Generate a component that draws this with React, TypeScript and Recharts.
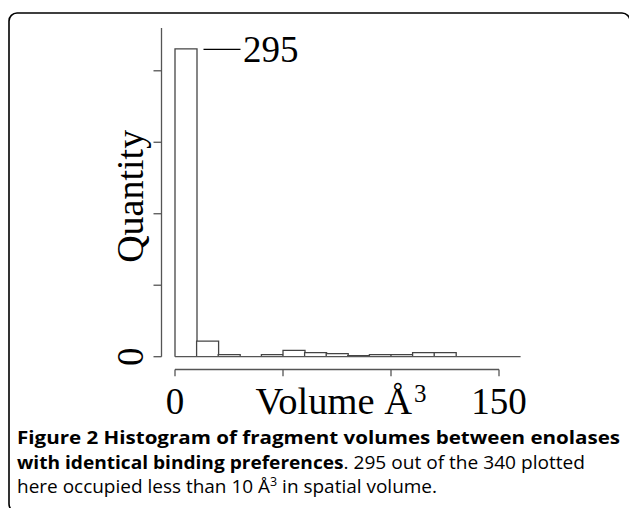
import React from 'react';
import { BarChart, Bar, XAxis, YAxis, ReferenceLine, LabelList } from 'recharts';

// Histogram bins (Å^3): bin centres, 10 Å^3 wide
const binMids = [5, 15, 25, 35, 45, 55, 65, 75, 85, 95, 105, 115, 125, 135, 145, 155];
const counts = [295, 15, 2, 0, 2, 6, 4, 3, 1, 2, 2, 4, 4, 0, 0, 0];

const xTicks = [0, 50, 100, 150];
const xTickLabels = ['0', '', '', '150'];
const yTicks = [0, 68.5, 137, 205.5, 274];
const yTickLabels = ['0', '', '', '', ''];

const data = binMids.map((mid, i) => ({ mid, count: counts[i] }));

const SERIF = '"Liberation Serif", "Times New Roman", serif';
const SANS = '"Open Sans", "Noto Sans", sans-serif';
const AXIS = '#555';

const XTick = (props: any) => {
  const { x, y, payload } = props;
  const i = xTicks.indexOf(payload.value);
  const label = i >= 0 ? xTickLabels[i] : '';
  return (
    <g>
      <line x1={x} x2={x} y1={y + 12.8} y2={y + 19.5} stroke={AXIS} strokeWidth={1.3} />
      {label ? (
        <text x={x} y={y + 57} textAnchor="middle" fontFamily={SERIF} fontSize={37} fill="#000">
          {label}
        </text>
      ) : null}
    </g>
  );
};

const YTick = (props: any) => {
  const { x, y, payload } = props;
  const i = yTicks.indexOf(payload.value);
  const label = i >= 0 ? yTickLabels[i] : '';
  if (!label) return <g />;
  return (
    <text
      x={x}
      y={y}
      transform={`rotate(-90, ${x}, ${y})`}
      textAnchor="middle"
      fontFamily={SERIF}
      fontSize={37}
      fill="#000"
    >
      {label}
    </text>
  );
};

const QuantityLabel = (props: any) => {
  const vb = props.viewBox || {};
  const x = vb.x + vb.width - 18.5;
  const y = vb.y + vb.height / 2 + 4;
  return (
    <text
      x={x}
      y={y}
      transform={`rotate(-90, ${x}, ${y})`}
      textAnchor="middle"
      fontFamily={SERIF}
      fontSize={38}
      fill="#000"
    >
      Quantity
    </text>
  );
};

const VolumeLabel = (props: any) => {
  const vb = props.viewBox || {};
  const x = vb.x + vb.width / 2;
  const y = vb.y + 57;
  return (
    <text x={x} y={y} textAnchor="middle" fontFamily={SERIF} fontSize={38.5} fill="#000">
      Volume Å
      <tspan fontSize={25} dx={2} dy={-12}>3</tspan>
    </text>
  );
};

const AxisLineShape = (props: any) => {
  const { x1, y1, x2, y2 } = props;
  return <line x1={x1} x2={x2} y1={y1 + 12.8} y2={y2 + 12.8} stroke={AXIS} strokeWidth={1.3} />;
};

const peak = Math.max(...counts);
const PeakLabel = (props: any) => {
  const vb = props.viewBox || props;
  const { value } = props;
  if (value !== peak) return null;
  const x = vb.x + vb.width;
  const y = vb.y;
  return (
    <g>
      <line x1={x + 6.5} x2={x + 43.5} y1={y + 0.5} y2={y + 0.5} stroke="#000" strokeWidth={1.2} />
      <text x={x + 46} y={y + 13.5} fontFamily={SERIF} fontSize={37} fill="#000">
        {value}
      </text>
    </g>
  );
};

export default function App() {
  return (
    <div style={{ position: 'absolute', left: 0, top: 0, width: 629, height: 508, background: '#fff', overflow: 'hidden' }}>
      <BarChart
        width={629}
        height={508}
        data={data}
        margin={{ top: 28, right: 108.4, bottom: 81.3, left: 0 }}
        barCategoryGap={0}
        barGap={0}
      >
        <XAxis
          type="number"
          dataKey="mid"
          domain={[-6.25, 160]}
          allowDataOverflow
          ticks={xTicks}
          interval={0}
          tickSize={0}
          tickMargin={0}
          axisLine={false}
          tickLine={false}
          tick={XTick}
          height={70}
          label={VolumeLabel}
        />
        <YAxis
          type="number"
          domain={[0, 315]}
          allowDataOverflow
          ticks={yTicks}
          interval={0}
          width={161.5}
          tickSize={8}
          tickMargin={10.5}
          axisLine={{ stroke: AXIS, strokeWidth: 1.3 }}
          tickLine={{ stroke: AXIS, strokeWidth: 1.3 }}
          tick={YTick}
          label={QuantityLabel}
        />
        <ReferenceLine
          segment={[{ x: 0, y: 0 }, { x: 160, y: 0 }]}
          stroke={AXIS}
          strokeWidth={1.3}
          ifOverflow="visible"
        />
        <ReferenceLine
          segment={[{ x: 0, y: 0 }, { x: 150, y: 0 }]}
          shape={AxisLineShape}
          ifOverflow="visible"
        />
        <Bar dataKey="count" fill="#fff" stroke="#444" strokeWidth={1.3} isAnimationActive={false}>
          <LabelList dataKey="count" content={PeakLabel} />
        </Bar>
      </BarChart>
      <svg
        width={629}
        height={508}
        style={{ position: 'absolute', left: 0, top: 0, pointerEvents: 'none' }}
      >
        <path
          d="M 17 512 A 8 8 0 0 1 9 504 V 21 A 8 8 0 0 1 17 13 H 622 A 8 8 0 0 1 630 21"
          fill="none"
          stroke="#000"
          strokeWidth={1.6}
        />
        <text x={17} y={444} fontFamily={SANS} fontSize={18.3} fill="#000" fontWeight="bold" textLength={603} lengthAdjust="spacingAndGlyphs">
          Figure 2 Histogram of fragment volumes between enolases
        </text>
        <text x={17} y={469} fontFamily={SANS} fontSize={18.3} fill="#000" textLength={568} lengthAdjust="spacingAndGlyphs">
          <tspan fontWeight="bold">with identical binding preferences</tspan>. 295 out of the 340 plotted
        </text>
        <text x={17} y={493} fontFamily={SANS} fontSize={18.3} fill="#000" textLength={420} lengthAdjust="spacingAndGlyphs">
          here occupied less than 10 Å<tspan fontSize={12} dy={-7.5}>3</tspan>
          <tspan dy={7.5}> in spatial volume.</tspan>
        </text>
      </svg>
    </div>
  );
}
